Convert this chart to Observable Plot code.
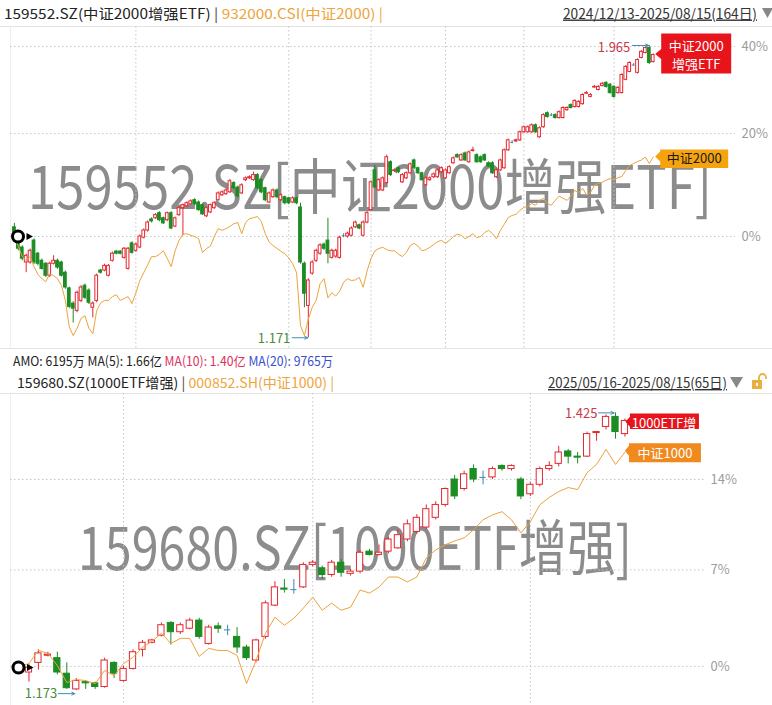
<!DOCTYPE html>
<html><head><meta charset="utf-8">
<script src="https://cdn.jsdelivr.net/npm/d3@7"></script>
<script src="https://cdn.jsdelivr.net/npm/@observablehq/plot@0.6"></script>
<style>
html,body{margin:0;padding:0;background:#fff;}
#wrap{position:relative;width:772px;height:705px;overflow:hidden;background:#fff;font-family:'Noto Sans CJK SC','Noto Sans',sans-serif;}
#wrap svg{position:absolute;left:0;}
</style></head><body><div id="wrap"></div>
<script>
// ---------------- DATA ----------------
// Top panel: 159552.SZ 中证2000增强ETF, 2024/12/13-2025/08/15 (164 days)
const topBase = 1.401; // 0% reference price
const topOpen = [1.424,1.391,1.374,1.338,1.338,1.391,1.359,1.342,1.335,1.307,
1.335,1.342,1.338,1.314,1.278,1.244,1.228,1.250,1.284,1.273,
1.235,1.250,1.319,1.319,1.307,1.342,1.364,1.364,1.349,1.323,
1.384,1.366,1.374,1.398,1.416,1.444,1.447,1.460,1.447,1.442,
1.460,1.426,1.455,1.473,1.478,1.483,1.494,1.488,1.481,1.452,
1.462,1.473,1.494,1.507,1.510,1.515,1.540,1.528,1.512,1.548,
1.553,1.548,1.562,1.548,1.526,1.488,1.502,1.520,1.494,1.502,
1.499,1.488,1.499,1.475,1.335,1.239,1.312,1.342,1.359,1.381,
1.391,1.349,1.352,1.349,1.403,1.401,1.403,1.424,1.429,1.403,
1.436,1.468,1.575,1.520,1.520,1.540,1.598,1.573,1.581,1.542,
1.553,1.567,1.603,1.581,1.567,1.534,1.548,1.556,1.556,1.570,
1.553,1.567,1.595,1.618,1.603,1.623,1.598,1.630,1.618,1.612,
1.618,1.595,1.595,1.556,1.575,1.581,1.632,1.655,1.658,1.661,
1.685,1.685,1.685,1.706,1.670,1.700,1.743,1.737,1.737,1.728,
1.728,1.752,1.768,1.762,1.762,1.771,1.804,1.794,1.824,1.816,
1.829,1.839,1.833,1.826,1.806,1.806,1.849,1.875,1.898,1.872,
1.922,1.939,1.956,1.908];
const topClose = [1.396,1.371,1.347,1.354,1.366,1.338,1.335,1.323,1.307,1.335,
1.342,1.326,1.307,1.280,1.237,1.233,1.268,1.280,1.257,1.246,
1.244,1.307,1.314,1.330,1.330,1.359,1.359,1.359,1.371,1.371,
1.361,1.381,1.401,1.416,1.436,1.439,1.455,1.442,1.434,1.460,
1.421,1.447,1.473,1.481,1.486,1.491,1.483,1.468,1.457,1.473,
1.481,1.486,1.512,1.515,1.520,1.545,1.526,1.504,1.534,1.553,
1.556,1.562,1.526,1.515,1.494,1.512,1.520,1.502,1.507,1.486,
1.486,1.499,1.486,1.338,1.266,1.296,1.338,1.366,1.379,1.371,
1.359,1.366,1.366,1.398,1.403,1.408,1.421,1.436,1.421,1.436,
1.460,1.542,1.528,1.548,1.553,1.612,1.562,1.575,1.570,1.562,
1.567,1.592,1.581,1.567,1.548,1.553,1.553,1.564,1.575,1.581,
1.575,1.584,1.609,1.612,1.618,1.603,1.626,1.632,1.598,1.598,
1.603,1.586,1.567,1.575,1.603,1.632,1.661,1.655,1.661,1.685,
1.700,1.700,1.706,1.685,1.697,1.737,1.731,1.737,1.728,1.746,
1.759,1.759,1.759,1.781,1.778,1.800,1.806,1.800,1.826,1.826,
1.836,1.826,1.806,1.794,1.823,1.865,1.892,1.905,1.898,1.915,
1.943,1.956,1.905,1.932];
const topHigh = [1.434,1.395,1.378,1.358,1.370,1.395,1.362,1.346,1.338,1.339,
1.354,1.346,1.341,1.318,1.281,1.248,1.272,1.284,1.288,1.277,
1.248,1.311,1.322,1.334,1.333,1.363,1.367,1.367,1.374,1.374,
1.388,1.385,1.405,1.420,1.440,1.448,1.459,1.464,1.450,1.463,
1.464,1.450,1.477,1.484,1.490,1.495,1.498,1.492,1.484,1.476,
1.484,1.490,1.516,1.519,1.524,1.550,1.544,1.532,1.538,1.557,
1.560,1.570,1.566,1.552,1.529,1.516,1.524,1.524,1.511,1.505,
1.502,1.503,1.502,1.486,1.339,1.300,1.342,1.370,1.383,1.385,
1.447,1.370,1.370,1.402,1.408,1.412,1.425,1.440,1.432,1.440,
1.464,1.546,1.589,1.552,1.557,1.618,1.602,1.579,1.584,1.566,
1.571,1.596,1.607,1.584,1.570,1.557,1.557,1.568,1.579,1.585,
1.579,1.588,1.613,1.622,1.622,1.627,1.630,1.641,1.622,1.616,
1.622,1.599,1.599,1.579,1.607,1.636,1.665,1.660,1.665,1.689,
1.704,1.704,1.710,1.710,1.701,1.741,1.747,1.742,1.741,1.750,
1.763,1.763,1.772,1.785,1.782,1.804,1.811,1.804,1.831,1.830,
1.840,1.843,1.837,1.830,1.827,1.869,1.896,1.909,1.903,1.919,
1.947,1.960,1.965,1.936];
const topLow = [1.389,1.366,1.342,1.314,1.334,1.333,1.330,1.320,1.303,1.303,
1.332,1.322,1.304,1.276,1.233,1.202,1.224,1.246,1.253,1.242,
1.213,1.246,1.311,1.316,1.304,1.339,1.356,1.356,1.346,1.320,
1.358,1.362,1.371,1.395,1.412,1.435,1.444,1.438,1.431,1.438,
1.418,1.423,1.452,1.403,1.475,1.480,1.480,1.465,1.454,1.449,
1.459,1.470,1.491,1.504,1.507,1.512,1.522,1.500,1.509,1.544,
1.550,1.545,1.522,1.511,1.490,1.485,1.499,1.498,1.490,1.482,
1.482,1.485,1.482,1.334,1.235,1.171,1.308,1.338,1.355,1.367,
1.335,1.346,1.348,1.346,1.398,1.397,1.400,1.421,1.418,1.400,
1.433,1.465,1.524,1.517,1.517,1.537,1.558,1.570,1.566,1.539,
1.550,1.564,1.577,1.564,1.545,1.531,1.545,1.553,1.553,1.567,
1.550,1.564,1.592,1.609,1.600,1.600,1.595,1.627,1.595,1.595,
1.600,1.583,1.564,1.553,1.572,1.578,1.629,1.651,1.655,1.658,
1.682,1.682,1.682,1.682,1.667,1.697,1.728,1.733,1.725,1.725,
1.725,1.749,1.756,1.759,1.759,1.768,1.802,1.791,1.822,1.813,
1.826,1.822,1.803,1.790,1.803,1.803,1.846,1.872,1.894,1.868,
1.919,1.936,1.900,1.905];
// 932000.CSI 中证2000, % change from first day
const topIndexPct = [0,-1.7,-3.5,-4.2,-3.5,-5.2,-6.5,-7.2,-7.7,-6.4,
-6.7,-7.2,-8.3,-10.7,-14.8,-16.1,-15.0,-13.5,-13.1,-15.0,
-15.8,-12.3,-11.1,-10.7,-10.7,-10.1,-9.8,-10.7,-10.4,-10.1,
-11.2,-9.5,-7.5,-6.2,-4.9,-3.5,-3.5,-3.1,-2.5,-3.8,
-5.2,-2.5,-0.7,0.4,0.5,0.2,0,-0.4,-2.8,-2.1,
-1.7,0,1.4,1.1,1.4,1.8,2.3,2.5,0.5,2.5,
3.2,3.4,3.6,2.7,0.5,-1.0,-1.6,-2.1,-2.6,-3.0,
-3.7,-4.7,-6.2,-14.6,-16.1,-13.6,-11.8,-10.7,-8.0,-7.2,
-10.3,-9.5,-10.0,-9.2,-7.8,-7.2,-7.5,-7.4,-7.0,-8.6,
-5.9,-3.8,-2.5,-2.1,-1.9,-2.3,-2.5,-2.5,-3.1,-3.5,
-2.8,-1.6,-1.2,-1.7,-2.5,-2.3,-1.9,-1.4,-0.9,-0.7,
-1.2,-0.7,0,0.4,0.2,-0.4,0,0.5,-0.2,0,
0.7,1.1,0.5,-0.4,1.1,2.2,3.4,3.8,4.0,4.7,
5.3,5.5,6.0,5.7,6.6,7.0,6.0,5.7,6.6,7.4,
7.0,6.6,7.4,8.5,8.1,8.9,7.6,8.1,9.5,9.9,
10.1,10.5,10.8,10.5,11.0,11.2,12.4,13.4,13.8,14.2,
14.5,15.1,13.8,15.1];
const topTicks = [0, 20, 40];
const topMonthStarts = [31, 70, 91, 110, 130, 153]; // day index of month starts with grid lines
const topEtfTag = "中证2000\n增强ETF";
const topIndexTag = "中证2000";

// Bottom panel: 159680.SZ 1000ETF增强, 2025/05/16-2025/08/15 (65 days)
const botBase = 1.193;
const botOpen = [1.191,1.188,1.196,1.202,1.200,1.187,1.174,1.180,1.179,1.176,
1.196,1.181,1.191,1.207,1.213,1.219,1.230,1.222,1.225,1.232,
1.212,1.227,1.224,1.218,1.209,1.198,1.218,1.245,1.260,1.259,
1.261,1.281,1.278,1.272,1.283,1.273,1.275,1.293,1.290,1.293,
1.296,1.304,1.311,1.315,1.324,1.336,1.360,1.351,1.370,1.362,
1.362,1.373,1.370,1.360,1.346,1.355,1.370,1.375,1.387,1.382,
1.382,1.405,1.411,1.421,1.404];
const botClose = [1.195,1.192,1.204,1.203,1.188,1.175,1.181,1.179,1.176,1.198,
1.187,1.191,1.205,1.213,1.215,1.228,1.222,1.228,1.232,1.218,
1.226,1.225,1.224,1.209,1.200,1.215,1.247,1.261,1.259,1.259,
1.281,1.283,1.272,1.283,1.274,1.275,1.292,1.290,1.292,1.304,
1.308,1.318,1.324,1.332,1.336,1.351,1.344,1.365,1.360,1.362,
1.370,1.370,1.373,1.344,1.355,1.370,1.373,1.386,1.382,1.381,
1.404,1.406,1.421,1.406,1.417];
const botHigh = [1.196,1.195,1.207,1.205,1.205,1.196,1.183,1.181,1.180,1.200,
1.197,1.193,1.207,1.215,1.216,1.230,1.231,1.230,1.234,1.234,
1.228,1.230,1.228,1.226,1.211,1.216,1.249,1.266,1.268,1.268,
1.283,1.285,1.280,1.285,1.286,1.277,1.294,1.295,1.299,1.306,
1.313,1.322,1.327,1.336,1.339,1.352,1.364,1.368,1.374,1.368,
1.372,1.374,1.374,1.362,1.357,1.372,1.377,1.392,1.389,1.386,
1.406,1.406,1.423,1.425,1.419];
const botLow = [1.190,1.180,1.190,1.201,1.186,1.174,1.173,1.174,1.174,1.175,
1.183,1.180,1.190,1.201,1.212,1.218,1.211,1.220,1.224,1.216,
1.211,1.221,1.219,1.204,1.198,1.196,1.216,1.244,1.256,1.255,
1.260,1.279,1.268,1.270,1.270,1.271,1.273,1.289,1.289,1.291,
1.295,1.302,1.309,1.313,1.322,1.334,1.341,1.349,1.357,1.355,
1.360,1.368,1.368,1.341,1.344,1.353,1.368,1.372,1.375,1.375,
1.381,1.397,1.408,1.399,1.401];
// 000852.SH 中证1000, % change from first day
const botIndexPct = [0,0.21,1.13,0.92,0.07,-1.12,-0.91,-0.98,-1.19,-0.28,
-0.63,0.21,0.64,1.35,1.78,2.35,1.63,1.99,1.99,0.71,
1.28,1.13,1.13,0.78,-1.19,0.42,2.35,3.51,2.93,3.44,
4.17,4.98,4.02,4.54,4.02,4.24,5.50,5.28,5.72,6.47,
6.47,6.10,6.47,7.90,8.51,8.90,9.20,9.43,10.05,10.83,
11.21,11.46,10.83,9.82,10.67,12.00,12.58,13.04,13.36,13.20,
14.55,15.21,16.44,15.21,16.20];
const botTicks = [0, 7, 14];
const botMonthStarts = [11, 31, 54];
const botEtfTag = "1000ETF增";
const botIndexTag = "中证1000";

// ---------------- STYLE ----------------
const FONT = "'Noto Sans CJK SC','Noto Sans',sans-serif";
const RED = "#e3272f", GREEN = "#1c8c24", BLUE = "#3f86b5", ORANGE = "#eba33d", ARROW = "#3d8fb8";

function tagSymbol(x0, x1, y0, y1, tipX, tipY) {
  return {draw(ctx) {
    ctx.moveTo(tipX, tipY);
    ctx.lineTo(x0, tipY - 5);
    ctx.lineTo(x0, y0);
    ctx.lineTo(x1, y0);
    ctx.lineTo(x1, y1);
    ctx.lineTo(x0, y1);
    ctx.lineTo(x0, tipY + 5);
    ctx.closePath();
  }};
}
const triRight = {draw(ctx) { ctx.moveTo(-3, -3.6); ctx.lineTo(3.5, 0); ctx.lineTo(-3, 3.6); ctx.closePath(); }};

function panel(cfg) {
  const rows = cfg.open.map((o, i) => ({i, o: o / cfg.base, c: cfg.close[i] / cfg.base, h: cfg.high[i] / cfg.base, l: cfg.low[i] / cfg.base}));
  const ups = rows.filter(d => d.c > d.o), downs = rows.filter(d => d.c < d.o), flats = rows.filter(d => d.c === d.o);
  const line = cfg.index.map((p, i) => ({i, r: 1 + p / 100}));
  const last = rows[rows.length - 1], lastIdx = line[line.length - 1];
  const iMax = d3.maxIndex(cfg.high), iMin = d3.minIndex(cfg.low);
  const maxPt = {i: iMax, r: cfg.high[iMax] / cfg.base, v: cfg.high[iMax]};
  const minPt = {i: iMin, r: cfg.low[iMin] / cfg.base, v: cfg.low[iMin]};
  const bw = cfg.bw;
  const grid = {stroke: "#c6c6c6", strokeDasharray: "1.5,2.5", strokeWidth: 1};
  const t = cfg.tags;
  const svg = Plot.plot({
    width: 772, height: cfg.height,
    marginLeft: 10, marginRight: cfg.marginRight, marginTop: 0, marginBottom: 0,
    x: {type: "linear", domain: cfg.xDomain, axis: null},
    y: {type: "log", domain: [1, 1 + cfg.ticks[2] / 100], range: cfg.yRange, axis: null},
    style: {background: "transparent", overflow: "visible", fontFamily: FONT},
    marks: [
      Plot.ruleY(cfg.ticks.map(v => 1 + v / 100), grid),
      Plot.ruleX(cfg.vgrid, grid),
      Plot.text(cfg.ticks, {y: v => 1 + v / 100, text: v => v + "%", frameAnchor: "right", textAnchor: "start", dx: cfg.pad, fill: "#9c9c9c", fontSize: 13}),
      Plot.ruleX(ups, {x: "i", y1: "l", y2: "h", stroke: RED}),
      Plot.ruleX(downs, {x: "i", y1: "l", y2: "h", stroke: GREEN}),
      Plot.ruleX(flats, {x: "i", y1: "l", y2: "h", stroke: BLUE}),
      Plot.rect(ups, {x1: d => d.i - bw, x2: d => d.i + bw, y1: "o", y2: "c", fill: "white", stroke: RED}),
      Plot.rect(downs, {x1: d => d.i - bw, x2: d => d.i + bw, y1: "c", y2: "o", fill: GREEN, stroke: GREEN}),
      Plot.ruleY(flats, {x1: d => d.i - bw, x2: d => d.i + bw, y: "c", stroke: BLUE}),
      Plot.line(line, {x: "i", y: "r", stroke: ORANGE, strokeWidth: 1}),
      // max / min annotations
      Plot.arrow([maxPt], {x1: d => d.i - cfg.maxA.len, x2: d => d.i - 0.15, y1: "r", y2: "r", stroke: ARROW, strokeWidth: 1, headLength: 5, headAngle: 50, dy: cfg.maxA.ady}),
      Plot.text([maxPt], {x: "i", y: "r", text: d => d.v.toFixed(3), textAnchor: "end", dx: cfg.maxA.dx, dy: cfg.maxA.dy, fill: "#c7394b", fontSize: 13}),
      Plot.arrow([minPt], {x1: d => d.i - cfg.minA.len, x2: d => d.i - 0.15, y1: "r", y2: "r", stroke: ARROW, strokeWidth: 1, headLength: 5, headAngle: 50, dy: cfg.minA.ady}),
      Plot.text([minPt], {x: "i", y: "r", text: d => d.v.toFixed(3), textAnchor: "end", dx: cfg.minA.dx, dy: cfg.minA.dy, fill: "#4a8c3c", fontSize: 13}),
      // tags
      Plot.dot([last], {x: "i", y: "c", symbol: tagSymbol(...t.etf.box), fill: t.etf.fill, r: 5}),
      Plot.text([last], {x: "i", y: "c", text: () => cfg.etfTag, dx: t.etf.tx, dy: t.etf.ty, fill: "white", fontSize: 13, lineHeight: 1.4}),
      Plot.dot([lastIdx], {x: "i", y: "r", symbol: tagSymbol(...t.idx.box), fill: t.idx.fill, r: 5}),
      Plot.text([lastIdx], {x: "i", y: "r", text: () => cfg.idxTag, dx: t.idx.tx, dy: t.idx.ty, fill: t.idx.color, fontSize: 13}),
      // start marker
      Plot.dot([1], {y: d => d, frameAnchor: "left", dx: cfg.ring.dx, dy: cfg.ring.dy, r: 5.5, stroke: "black", strokeWidth: 3, fill: "white"}),
      Plot.dot([1], {y: d => d, frameAnchor: "left", dx: cfg.ring.dx + 11.5, dy: cfg.ring.dy, symbol: triRight, fill: "black", r: 4})
    ]
  });
  svg.style.top = cfg.top + "px";
  svg.style.position = "absolute";
  svg.style.left = "0px";
  return svg;
}

const wrap = document.getElementById("wrap");
// background layer: texts, separators, watermarks, icons
wrap.innerHTML = `
<svg width="772" height="705" style="top:0" font-family="${FONT}">
  <line x1="0" x2="772" y1="26.5" y2="26.5" stroke="#e3e3e3"/>
  <line x1="0" x2="772" y1="348.5" y2="348.5" stroke="#e3e3e3"/>
  <line x1="0" x2="772" y1="393.5" y2="393.5" stroke="#e3e3e3"/>
  <line x1="10.5" x2="10.5" y1="27" y2="348" stroke="#eeeeee"/>
  <line x1="10.5" x2="10.5" y1="394" y2="705" stroke="#eeeeee"/>
  <text x="28" y="209" font-size="60" fill="#8c8c8c" textLength="684" lengthAdjust="spacingAndGlyphs">159552.SZ[中证2000增强ETF]</text>
  <text x="78" y="570" font-size="60" fill="#8c8c8c" textLength="554" lengthAdjust="spacingAndGlyphs">159680.SZ[1000ETF增强]</text>
  <text x="4" y="18.5" font-size="14" textLength="379" lengthAdjust="spacingAndGlyphs"><tspan fill="#222">159552.SZ(中证2000增强ETF) </tspan><tspan fill="#444">|</tspan><tspan fill="#eda53c"> 932000.CSI(中证2000) |</tspan></text>
  <text x="563" y="18.5" font-size="14" fill="#333" text-decoration="underline" textLength="194" lengthAdjust="spacingAndGlyphs">2024/12/13-2025/08/15(164日)</text>
  <path d="M762,8 L773,8 L767.5,18 Z" fill="#888"/>
  <text x="13" y="366" font-size="13" textLength="320" lengthAdjust="spacingAndGlyphs"><tspan fill="#222">AMO: 6195万 MA(5): 1.66亿 </tspan><tspan fill="#e0325c">MA(10): 1.40亿 </tspan><tspan fill="#3a4fd0">MA(20): 9765万</tspan></text>
  <text x="17" y="388" font-size="14" textLength="317" lengthAdjust="spacingAndGlyphs"><tspan fill="#222">159680.SZ(1000ETF增强) </tspan><tspan fill="#444">|</tspan><tspan fill="#eda53c"> 000852.SH(中证1000) |</tspan></text>
  <text x="548" y="388" font-size="14" fill="#333" text-decoration="underline" textLength="179" lengthAdjust="spacingAndGlyphs">2025/05/16-2025/08/15(65日)</text>
  <path d="M730,377 L743,377 L736.5,388 Z" fill="#888"/>
  <rect x="752" y="380" width="10" height="9" fill="#e8b040"/>
  <rect x="756" y="383" width="2" height="3" fill="#fff"/>
  <path d="M759,380 L759,377.5 A3.5,3.5 0 0 1 766,377.5 L766,379" fill="none" stroke="#e8b040" stroke-width="1.8"/>
</svg>`;

wrap.appendChild(panel({
  open: topOpen, close: topClose, high: topHigh, low: topLow, index: topIndexPct, base: topBase,
  ticks: topTicks, vgrid: topMonthStarts, etfTag: topEtfTag, idxTag: topIndexTag,
  height: 322, top: 26, marginRight: 37, xDomain: [-1, 184], yRange: [210, 20], pad: 6, bw: 0.35,
  maxA: {len: 4.3, dx: -19, dy: 2, ady: 0}, minA: {len: 4.1, dx: -18, dy: 1, ady: 0},
  ring: {dx: 7.5, dy: 0},
  tags: {
    etf: {box: [8, 78, -21.5, 18.5, 2, -1], fill: "#e8141b", tx: 43, ty: -0.5},
    idx: {box: [7, 75, -7.5, 10.8, 2, -0.6], fill: "#f5a30e", tx: 41, ty: 1.5, color: "#1a1a1a"}
  }
}));
wrap.appendChild(panel({
  open: botOpen, close: botClose, high: botHigh, low: botLow, index: botIndexPct, base: botBase,
  ticks: botTicks, vgrid: botMonthStarts, etfTag: botEtfTag, idxTag: botIndexTag,
  height: 312, top: 393, marginRight: 66, xDomain: [-0.951, 72.62], yRange: [273, 86], pad: 4, bw: 0.33,
  maxA: {len: 1.8, dx: -18, dy: 1, ady: 0}, minA: {len: 1.9, dx: -19, dy: 3, ady: 3},
  ring: {dx: 8, dy: 1},
  tags: {
    etf: {box: [5, 74, -7.5, 8, 0.5, 0.8], fill: "#e8141b", tx: 39, ty: 0.8},
    idx: {box: [4, 76, -9, 10, 0, -1.5], fill: "#f08a1e", tx: 40, ty: 1.3, color: "white"}
  }
}));
</script></body></html>
